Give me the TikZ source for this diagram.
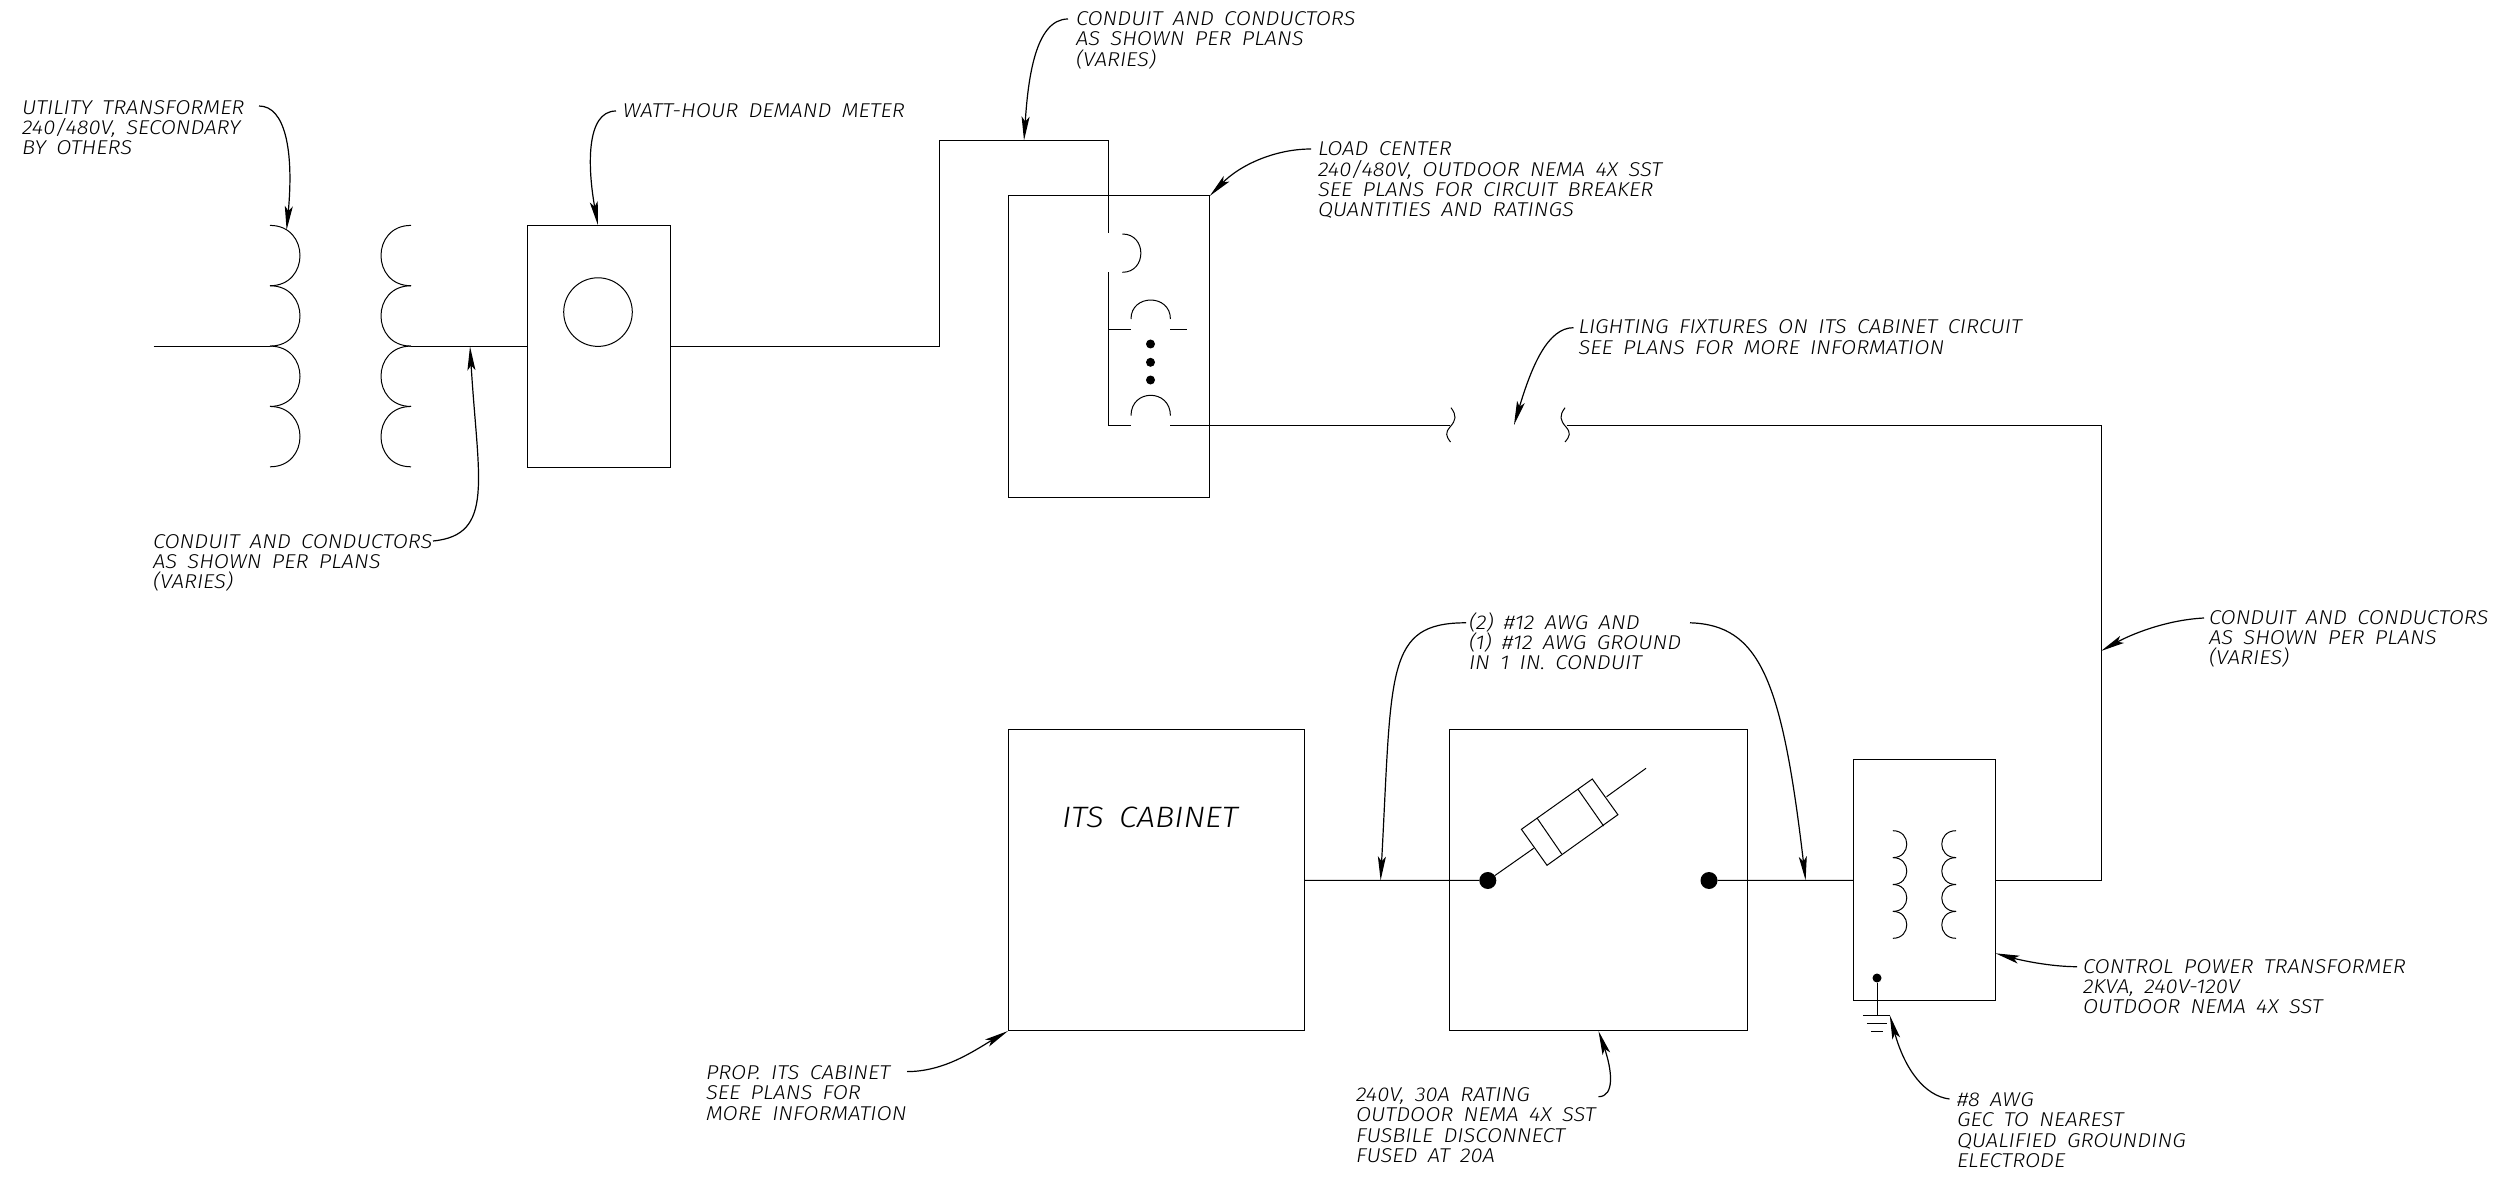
\documentclass[tikz,border=0pt]{standalone}
\usepackage{fontspec}
\setmainfont{Fira Sans}[UprightFont=* Light,ItalicFont=* Light Italic,FakeStretch=1.1,WordSpace=1.7]
\usetikzlibrary{arrows.meta}
\newcommand\firstline{\rule{0pt}{20pt}}
\newcommand\coilR[5]{% x, y0, step, ctrl, n
  \foreach \k in {1,...,#5}{
    \draw[wire] (#1,{#2+(\k-1)*#3}) .. controls ({#1+#4},{#2+(\k-1)*#3}) and ({#1+#4},{#2+\k*#3}) .. (#1,{#2+\k*#3});
  }}
\tikzset{
  wire/.style={line width=1pt,black},
  box/.style={draw,line width=1pt,inner sep=0pt,outer sep=0pt},
  lab/.style={inner sep=0pt,outer sep=0pt,anchor=north west,align=left,yshift=20pt,
    font={\fontsize{20}{20.2}\selectfont\itshape\lineskiplimit=-100pt\relax}},
  lead/.style={line width=1.2pt,-{Stealth[length=24pt,width=8pt,inset=5pt]}},
  dot/.style={circle,fill=black,inner sep=0pt,outer sep=0pt}
}
\begin{document}
\begin{tikzpicture}[x=1pt,y=-1pt]
\useasboundingbox (0,0) rectangle (2504,1182);
\fill[white] (0,0) rectangle (2504,1182);
% boxes
\node[box,minimum width=143pt,minimum height=241.6pt] (meter) at (598.5,346.2) {};
\node[box,circle,minimum size=68.6pt] (dial) at (598,312.1) {};
\node[box,minimum width=201.7pt,minimum height=301pt] (load) at (1108.85,346.5) {};
\node[box,minimum width=296.7pt,minimum height=301.3pt] (its) at (1156.35,880.3) {};
\node[box,minimum width=297.5pt,minimum height=301.3pt] (disc) at (1598.25,880.3) {};
\node[box,minimum width=141.8pt,minimum height=241.3pt] (ctrl) at (1924.5,880.3) {};
% transformer
\coordinate (inA) at (153.6,346.4);
\coordinate (pri) at (270,346.4);
\coordinate (sec) at (411,346.4);
\coilR{270}{225.4}{60.35}{40}{4}
\coilR{411}{225.4}{60.35}{-40}{4}
\draw[wire] (inA) -- (pri);
\draw[wire] (sec) -- (meter.west |- sec);
% service run
\coordinate (c1) at (939,346.4);
\coordinate (c2) at (939,140.5);
\coordinate (c3) at (1108.7,140.5);
\coordinate (c4) at (1108.7,233);
\draw[wire] (meter.east |- c1) -- (c1) -- (c2) -- (c3) -- (c4);
% breakers
\coordinate (b1a) at (1122.4,234);
\coordinate (b1b) at (1122.4,272.3);
\draw[wire] (b1a) .. controls (1147,234) and (1147,272.3) .. (b1b);
\coordinate (b2) at (1108.7,272.3);
\coordinate (b3) at (1108.7,425);
\coordinate (b4) at (1131,425);
\draw[wire] (b2) -- (b3) -- (b4);
\coordinate (b5) at (1108.7,330);
\coordinate (b6) at (1131,330);
\coordinate (b7) at (1170.4,330);
\coordinate (b8) at (1187,330);
\draw[wire] (b5) -- (b6);
\draw[wire] (b7) -- (b8);
\draw[wire] (1131,319) .. controls (1131,293.7) and (1170.4,293.7) .. (1170.4,319);
\draw[wire] (1131,415.7) .. controls (1131,388.5) and (1170.4,388.5) .. (1170.4,415.7);
\node[dot,minimum size=9pt] (d1) at (1150.5,344) {};
\node[dot,minimum size=9pt] (d2) at (1150.5,362.3) {};
\node[dot,minimum size=9pt] (d3) at (1150.5,380) {};
% load feeder with breaks
\coordinate (f1) at (1170.4,425);
\coordinate (f2) at (1449.5,425);
\coordinate (f3) at (1566.8,425);
\coordinate (f4) at (2101,425);
\coordinate (f5) at (2101,880.3);
\draw[wire] (f1) -- (f2);
\draw[wire] (f3) -- (f4) -- (f5) -- (ctrl.east |- f5);
\draw[wire] (1451,407.7) .. controls (1457,416) and (1456,420) .. (1450,427) .. controls (1445,433) and (1446,436) .. (1450.5,442);
\draw[wire] (1565,407.7) .. controls (1559,416) and (1560,420) .. (1566,427) .. controls (1571,433) and (1570,436) .. (1565,442);
% cabinet, disconnect
\node[dot,minimum size=17pt] (pL) at (1487.8,880.5) {};
\node[dot,minimum size=17pt] (pR) at (1709,880.5) {};
\draw[wire] (its.east) -- (pL);
\draw[wire] (pR) -- (ctrl.west);
% fuse
\coordinate (fa) at (1521.4,829.3);
\coordinate (fb) at (1592.3,779);
\coordinate (fc) at (1617.9,814.7);
\coordinate (fd) at (1547,865.3);
\coordinate (fe) at (1533.7,848.3);
\coordinate (ff) at (1606.6,796.7);
\coordinate (fg) at (1646,768.3);
\draw[wire] (pL) -- (fe);
\draw[wire] (fa) -- (fb) -- (fc) -- (fd) -- cycle;
\draw[wire] (1537.2,818.3) -- (1561.7,854);
\draw[wire] (1578,789.3) -- (1603.6,826);
\draw[wire] (ff) -- (fg);
% small transformer
\coilR{1892.9}{830.7}{26.9}{18.5}{4}
\coilR{1956}{830.7}{26.9}{-19}{4}
\node[dot,minimum size=9pt] (g0) at (1877,978) {};
\coordinate (g1) at (1877,1015.3);
\draw[wire] (g0) -- (g1);
\coordinate (g2) at (1862.8,1015.3);
\coordinate (g3) at (1890.3,1015.3);
\coordinate (g4) at (1866.8,1023.3);
\coordinate (g5) at (1886.7,1023.3);
\coordinate (g6) at (1871.4,1031.7);
\coordinate (g7) at (1882.6,1031.7);
\draw[wire] (g2) -- (g3);
\draw[wire] (g4) -- (g5);
\draw[wire] (g6) -- (g7);
% labels
\node[lab] (t1) at (22,114.3) {\firstline UTILITY TRANSFORMER\\240/480V, SECONDARY\\BY OTHERS};
\node[lab] (t2) at (622.8,118) {\firstline WATT-HOUR DEMAND METER};
\node[lab] (t3) at (153,548) {\firstline CONDUIT AND CONDUCTORS\\AS SHOWN PER PLANS\\(VARIES)};
\node[lab] (t4) at (1076,25.7) {\firstline CONDUIT AND CONDUCTORS\\AS SHOWN PER PLANS\\(VARIES)};
\node[lab] (t5) at (1318,156) {\firstline LOAD CENTER\\240/480V, OUTDOOR NEMA 4X SST\\SEE PLANS FOR CIRCUIT BREAKER\\QUANTITIES AND RATINGS};
\node[lab] (t6) at (1578.6,334) {\firstline LIGHTING FIXTURES ON ITS CABINET CIRCUIT\\SEE PLANS FOR MORE INFORMATION};
\node[lab] (t7) at (1469,629) {\firstline (2) \#12 AWG AND\\(1) \#12 AWG GROUND\\IN 1 IN. CONDUIT};
\node[lab] (t8) at (2209,624) {\firstline CONDUIT AND CONDUCTORS\\AS SHOWN PER PLANS\\(VARIES)};
\node[lab] (t9) at (2083,973) {\firstline CONTROL POWER TRANSFORMER\\2KVA, 240V-120V\\OUTDOOR NEMA 4X SST};
\node[lab] (t10) at (706,1079.6) {\firstline PROP. ITS CABINET\\SEE PLANS FOR\\MORE INFORMATION};
\node[lab] (t11) at (1356,1101.7) {\firstline 240V, 30A RATING\\OUTDOOR NEMA 4X SST\\FUSBILE DISCONNECT\\FUSED AT 20A};
\node[lab] (t12) at (1957,1106.7) {\firstline \#8 AWG\\GEC TO NEAREST\\QUALIFIED GROUNDING\\ELECTRODE};
\node[inner sep=0pt,outer sep=0pt,anchor=base west,font=\fontsize{29.5}{30}\selectfont\itshape] (t13) at (1062,827) {ITS CABINET};
% leaders
\coordinate (a1) at (259,106);
\coordinate (a1e) at (286.6,230);
\draw[lead] (a1) .. controls (285,106) and (294,150) .. (a1e);
\coordinate (a2) at (616,111);
\coordinate (a2e) at (598,225.4);
\draw[lead] (a2) .. controls (585,111) and (588,170) .. (a2e);
\coordinate (a3) at (433,541);
\coordinate (a3e) at (470,346.4);
\draw[lead] (a3) .. controls (495,535) and (478,480) .. (a3e);
\coordinate (a4) at (1068,19);
\coordinate (a4e) at (1024,140.5);
\draw[lead] (a4) .. controls (1035,19) and (1028,80) .. (a4e);
\coordinate (a5) at (1311,149);
\coordinate (a5e) at (1209.7,196);
\draw[lead] (a5) .. controls (1275,149) and (1240,165) .. (a5e);
\coordinate (a6) at (1573.5,327.7);
\coordinate (a6e) at (1514,425);
\draw[lead] (a6) .. controls (1548,327.7) and (1532,365) .. (a6e);
\coordinate (a7) at (1466,622.8);
\coordinate (a7e) at (1380.6,880.4);
\draw[lead] (a7) .. controls (1385,622.8) and (1392,670) .. (a7e);
\coordinate (a8) at (1690,622.8);
\coordinate (a8e) at (1805.6,880.4);
\draw[lead] (a8) .. controls (1760,625) and (1782,680) .. (a8e);
\coordinate (a9) at (2204,618);
\coordinate (a9e) at (2101,651);
\draw[lead] (a9) .. controls (2165,620) and (2130,635) .. (a9e);
\coordinate (a10) at (2077,966.7);
\coordinate (a10e) at (1995.4,953.3);
\draw[lead] (a10) .. controls (2050,966.7) and (2020,960) .. (a10e);
\coordinate (a11) at (907,1071.6);
\coordinate (a11e) at (1008,1031);
\draw[lead] (a11) .. controls (945,1071.6) and (975,1050) .. (a11e);
\coordinate (a12) at (1598.5,1096.7);
\coordinate (a12e) at (1598.5,1031);
\draw[lead] (a12) .. controls (1615,1096.7) and (1612,1070) .. (a12e);
\coordinate (a13) at (1949.5,1099);
\coordinate (a13e) at (1889.8,1015.3);
\draw[lead] (a13) .. controls (1925,1096) and (1905,1070) .. (a13e);
\end{tikzpicture}
\end{document}
